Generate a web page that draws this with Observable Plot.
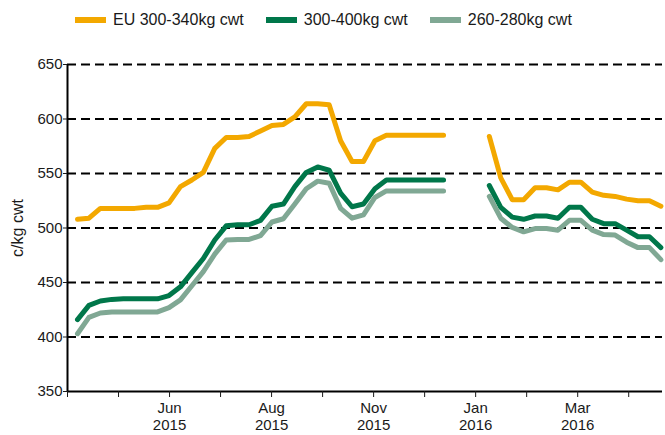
<!DOCTYPE html>
<html><head><meta charset="utf-8">
<script src="https://cdn.jsdelivr.net/npm/d3@7"></script>
<script src="https://cdn.jsdelivr.net/npm/@observablehq/plot@0.6"></script>
<style>
body{margin:0;background:#fff;font-family:"Liberation Sans",Arial,sans-serif;}
#legend{height:40px;display:flex;align-items:center;padding-left:75px;font-size:16px;color:#1a1a1a;}
.item{display:flex;align-items:center;margin-right:22px;}
.sw{width:31px;height:6px;margin-right:7px;}
</style></head><body>
<div id="legend"></div><div id="chart"></div>
<script>
const seriesNames = ["EU 300-340kg cwt", "300-400kg cwt", "260-280kg cwt"];
const seriesColors = ["#f3a800", "#00774a", "#80a894"];
const eu = [508,509,518,518,518,518,519,519,523,538,544,551,573,583,583,584,589,594,595,602,614,614,613,580,561,561,580,585,585,585,585,585,585,null,null,null,584,546,526,526,537,537,535,542,542,533,530,529,526.5,525,525,520];
const cwt300_400 = [416,429,433,434.5,435,435,435,435,438,446,459,472,489,502,503,503,507,520,522,538,551,556,553,532,519.5,522,536,544,544,544,544,544,544,null,null,null,539,519,510,508,511,511,509,519,519,508,504,504,498,492,492,482];
const cwt260_280 = [403,418,422,423,423,423,423,423,427,434,447,460,476,489,489.5,489.5,493,505.5,508.5,522,536,543,541,518,509,512,528,534,534,534,534,534,534,null,null,null,529,509,500.5,496.5,499.5,499.5,498,507,507,498,494,493.5,487,482,482,471];
const xTickLabels = ["", "", "Jun\n2015", "", "Aug\n2015", "", "Nov\n2015", "", "Jan\n2016", "", "Mar\n2016", ""];
const yTicks = [350, 400, 450, 500, 550, 600, 650];

const seriesValues = [eu, cwt300_400, cwt260_280];
const data = [];
seriesNames.forEach((name, s) => seriesValues[s].forEach((v, i) => data.push({i, v, series: name})));

const tickStart = -0.874, tickStep = 4.46;
const tickPos = xTickLabels.map((_, k) => tickStart + k * tickStep);

const legend = document.getElementById("legend");
seriesNames.forEach((n, s) => {
  const it = document.createElement("div"); it.className = "item";
  const sw = document.createElement("div"); sw.className = "sw"; sw.style.background = seriesColors[s];
  const t = document.createElement("span"); t.textContent = n;
  it.append(sw, t); legend.append(it);
});

const chart = Plot.plot({
  width: 665, height: 395,
  marginLeft: 67, marginRight: 3, marginTop: 24, marginBottom: 44,
  style: {fontFamily: '"Liberation Sans", Arial, sans-serif', fontSize: "15px", color: "#1a1a1a", background: "#fff", overflow: "visible"},
  x: {domain: [tickStart, 51.14]},
  y: {domain: [350, 650]},
  color: {domain: seriesNames, range: seriesColors},
  marks: [
    Plot.ruleY(yTicks.filter(d => d > 350), {stroke: "#000", strokeWidth: 2, strokeDasharray: "9,5"}),
    Plot.lineY(data, {x: "i", y: "v", z: "series", stroke: "series", strokeWidth: 5, strokeLinejoin: "round", strokeLinecap: "round"}),
    Plot.ruleX([tickStart], {stroke: "#000", strokeWidth: 2}),
    Plot.ruleY([350], {stroke: "#000", strokeWidth: 2}),
    Plot.axisY({ticks: yTicks, tickSize: 4, tickPadding: 1, label: null, fontSize: 15}),
    Plot.text(["c/kg cwt"], {frameAnchor: "left", textAnchor: "middle", dx: -50, rotate: -90, fontSize: 16, fill: "#1a1a1a"}),
    Plot.axisX({ticks: tickPos, tickSize: 6, tickPadding: 3, tickFormat: d => xTickLabels[tickPos.indexOf(d)] || "", label: null, fontSize: 15, lineHeight: 1.15})
  ]
});
document.getElementById("chart").append(chart);
</script>
</body></html>
